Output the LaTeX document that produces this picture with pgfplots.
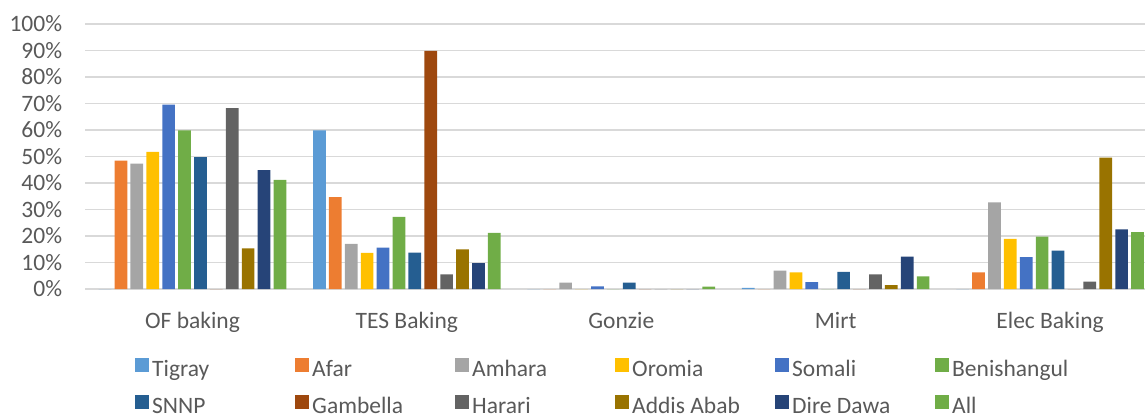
\documentclass[border=0pt]{standalone}
\usepackage{pgfplots}
\pgfplotsset{compat=1.18}
\usepackage{pgfplotstable}
\usepackage{fontspec}
\setmainfont{Carlito}

\definecolor{cTigray}{HTML}{5B9BD5}
\definecolor{cAfar}{HTML}{ED7D31}
\definecolor{cAmhara}{HTML}{A5A5A5}
\definecolor{cOromia}{HTML}{FFC000}
\definecolor{cSomali}{HTML}{4472C4}
\definecolor{cBeni}{HTML}{70AD47}
\definecolor{cSNNP}{HTML}{255E91}
\definecolor{cGambella}{HTML}{9E480E}
\definecolor{cHarari}{HTML}{636363}
\definecolor{cAddis}{HTML}{997300}
\definecolor{cDire}{HTML}{264478}
\definecolor{cAll}{HTML}{70AD47}
\definecolor{gridgray}{HTML}{D9D9D9}
\definecolor{labelgray}{HTML}{595959}

\newcommand\chartfont{\fontsize{23.5bp}{28bp}\selectfont}
\newcommand\lentry[1]{\makebox[140bp][l]{#1}}

% share of households using each baking technology, by region (%)
\pgfplotstableread{
x Tigray Afar Amhara Oromia Somali Beni SNNP Gambella Harari Addis Dire All
0 0    48.4 47.3 51.7 69.6 59.9 49.8 0    68.3 15.3 44.9 41.2
1 59.9 34.7 17.0 13.6 15.6 27.2 13.7 89.9 5.5  15.0 9.8  21.2
2 0    0    2.4  0    1.0  0    2.4  0    0    0    0    0.9
3 0.4  0    6.9  6.3  2.6  0    6.5  0    5.5  1.5  12.2 4.8
4 0    6.3  32.7 18.9 12.0 19.8 14.5 0    2.8  49.6 22.5 21.5
}\share

\begin{document}
\begin{tikzpicture}[x=1bp,y=1bp]
\begin{axis}[
  at={(85.3bp,125bp)}, anchor=south west,
  scale only axis, width=1059.7bp, height=265bp,
  xmin=-0.5, xmax=4.443, ymin=0, ymax=100,
  ybar=3.2bp, bar width=12.7bp,
  axis line style={draw=none},
  major tick length=0pt,
  ymajorgrids, grid style={line width=1.5bp, gridgray},
  xtick={0,1,2,3,4},
  xticklabels={OF baking, TES Baking, Gonzie, Mirt, Elec Baking},
  ytick={0,10,...,100},
  yticklabels={0\%,10\%,20\%,30\%,40\%,50\%,60\%,70\%,80\%,90\%,100\%},
  tick label style={font=\chartfont, text=labelgray},
  xticklabel style={anchor=base, yshift=-39bp},
  yticklabel style={anchor=east, inner sep=0pt, xshift=-23bp},
  legend columns=6,
  legend image code/.code={\fill[#1] (0bp,-1bp) rectangle (14bp,13bp);},
  legend style={draw=none, fill=none, font=\chartfont, text=labelgray,
    at={(axis description cs:0.0469,-0.26)}, anchor=north west,
    inner sep=0pt, row sep=12bp,
    nodes={inner xsep=3bp, inner ysep=0pt, text height=17bp, text depth=6bp}},
  every axis plot/.append style={draw=none},
]
\addplot[fill=cTigray]   table[x=x,y=Tigray]   {\share};
\addplot[fill=cAfar]     table[x=x,y=Afar]     {\share};
\addplot[fill=cAmhara]   table[x=x,y=Amhara]   {\share};
\addplot[fill=cOromia]   table[x=x,y=Oromia]   {\share};
\addplot[fill=cSomali]   table[x=x,y=Somali]   {\share};
\addplot[fill=cBeni]     table[x=x,y=Beni]     {\share};
\addplot[fill=cSNNP]     table[x=x,y=SNNP]     {\share};
\addplot[fill=cGambella] table[x=x,y=Gambella] {\share};
\addplot[fill=cHarari]   table[x=x,y=Harari]   {\share};
\addplot[fill=cAddis]    table[x=x,y=Addis]    {\share};
\addplot[fill=cDire]     table[x=x,y=Dire]     {\share};
\addplot[fill=cAll]      table[x=x,y=All]      {\share};
\legend{\lentry{Tigray},\lentry{Afar},\lentry{Amhara},\lentry{Oromia},\lentry{Somali},\lentry{Benishangul},
        \lentry{SNNP},\lentry{Gambella},\lentry{Harari},\lentry{Addis Abab},\lentry{Dire Dawa},\lentry{All}}
\end{axis}
\pgfresetboundingbox
\path[use as bounding box] (0,0) rectangle (1145bp,414bp);
\end{tikzpicture}
\end{document}
